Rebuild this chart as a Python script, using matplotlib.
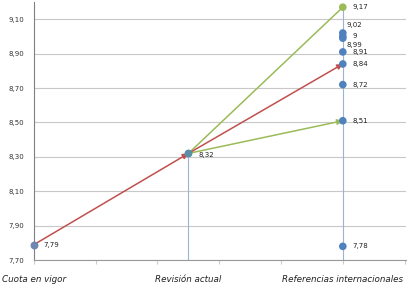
import matplotlib
matplotlib.use("Agg")
import matplotlib.pyplot as plt

categories = ["Cuota en vigor", "Revisión actual", "Referencias internacionales"]
cuota = 7.79
revision = 8.32
referencias = [9.17, 9.02, 9.00, 8.99, 8.91, 8.84, 8.72, 8.51, 7.78]
ref_labels = ["9,17", "9,02", "9", "8,99", "8,91", "8,84", "8,72", "8,51", "7,78"]
red_path = [7.79, 8.32, 8.84]
green_hi = [8.32, 9.17]
green_lo = [8.32, 8.51]
yticks = [7.70, 7.90, 8.10, 8.30, 8.50, 8.70, 8.90, 9.10]

BLUE = "#4f81bd"
GREEN = "#9bbb59"
RED = "#c0504d"

fig = plt.figure(figsize=(4.09, 2.89), dpi=100)
ax = fig.add_axes([0.083, 0.100, 0.910, 0.893])
ax.set_xlim(0, 2.41)
ax.set_ylim(7.70, 9.20)

ax.set_yticks(yticks)
ax.set_yticklabels([f"{v:.2f}".replace(".", ",") for v in yticks], fontsize=5, color="#333333")
ax.yaxis.grid(True, color="#c8c8c8", linewidth=0.8)
ax.set_axisbelow(True)
ax.tick_params(axis="y", length=0, pad=7)
ax.set_xticks([0, 0.4, 0.8, 1.2, 1.6, 2.0, 2.4])
ax.set_xticklabels([])
ax.tick_params(axis="x", length=3, color="#cccccc", direction="out")
for s in ["top", "right"]:
    ax.spines[s].set_visible(False)
ax.spines["left"].set_color("#808080")
ax.spines["bottom"].set_color("#999999")

# vertical drop lines
ax.plot([1, 1], [ax.get_ylim()[0], revision], color="#9db3d6", lw=0.8, zorder=1)
ax.plot([2, 2], [ax.get_ylim()[0], max(referencias)], color="#9db3d6", lw=0.8, zorder=1)

# green lines
ax.plot([1, 2], green_hi, color=GREEN, lw=1.1, zorder=2)
ax.annotate("", xy=(2, green_lo[1]), xytext=(1, green_lo[0]),
            arrowprops=dict(arrowstyle="-|>", color=GREEN, lw=1.1, mutation_scale=8,
                            shrinkA=0, shrinkB=0), zorder=2)
# red arrows
for i in range(2):
    ax.annotate("", xy=(i + 1, red_path[i + 1]), xytext=(i, red_path[i]),
                arrowprops=dict(arrowstyle="-|>", color=RED, lw=1.1, mutation_scale=8,
                                shrinkA=0, shrinkB=0), zorder=3)

# points
ax.scatter([0], [cuota], s=22, color="#6d87b0", zorder=4, clip_on=False)
ax.scatter([1], [revision], s=22, color="#5b8fa8", zorder=4)
cols = [GREEN] + [BLUE] * 8
ax.scatter([2] * len(referencias), referencias, s=20, c=cols, zorder=4)

lab_kw = dict(fontsize=5, color="#222222", va="center", ha="left", textcoords="offset points")
ax.annotate("7,79", (0, cuota), xytext=(7, 0), **lab_kw)
ax.annotate("8,32", (1, revision), xytext=(7, -1), **lab_kw)
offsets = {"9,02": (3, 6), "9": (7, 0), "8,99": (3, -5)}
for v, lab in zip(referencias, ref_labels):
    ax.annotate(lab, (2, v), xytext=offsets.get(lab, (7, 0)), **lab_kw)

for x, lab in zip([0, 1, 2], categories):
    ax.text(x, -0.075, lab, transform=ax.get_xaxis_transform(), ha="center", va="center",
            fontsize=6.3, style="italic", color="#222222")

fig.savefig("out.png", dpi=100)
